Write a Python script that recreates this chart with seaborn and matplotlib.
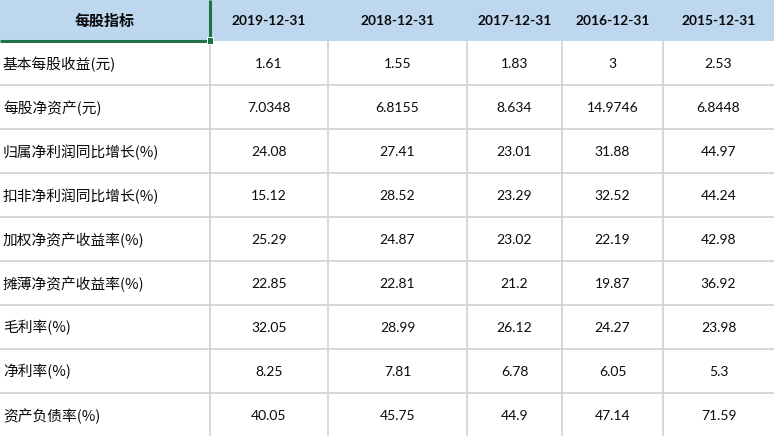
import matplotlib
matplotlib.use("Agg")
import matplotlib.pyplot as plt
import seaborn as sns

sns.set_theme(style="white")
plt.rcParams['font.family'] = ['Noto Sans CJK SC', 'DejaVu Sans']

header_label = "每股指标"
dates = ["2019-12-31", "2018-12-31", "2017-12-31", "2016-12-31", "2015-12-31"]
metrics = ["基本每股收益(元)", "每股净资产(元)", "归属净利润同比增长(%)",
           "扣非净利润同比增长(%)", "加权净资产收益率(%)", "摊薄净资产收益率(%)",
           "毛利率(%)", "净利率(%)", "资产负债率(%)"]
v2019 = ["1.61", "7.0348", "24.08", "15.12", "25.29", "22.85", "32.05", "8.25", "40.05"]
v2018 = ["1.55", "6.8155", "27.41", "28.52", "24.87", "22.81", "28.99", "7.81", "45.75"]
v2017 = ["1.83", "8.634", "23.01", "23.29", "23.02", "21.2", "26.12", "6.78", "44.9"]
v2016 = ["3", "14.9746", "31.88", "32.52", "22.19", "19.87", "24.27", "6.05", "47.14"]
v2015 = ["2.53", "6.8448", "44.97", "44.24", "42.98", "36.92", "23.98", "5.3", "71.59"]
columns = [v2019, v2018, v2017, v2016, v2015]

W, H = 774, 436
fig = plt.figure(figsize=(W / 100, H / 100), dpi=100)
ax = fig.add_axes([0, 0, 1, 1])
ax.set_xlim(0, W)
ax.set_ylim(H, 0)
ax.axis("off")

col_edges = [0, 210, 328, 467, 562, 663, 774]
header_h = 41
row_h = 44
grid = "#D4D4D4"
blue = "#BDD7EE"
green = "#217346"
ink = "#0a0a0a"

# header background
ax.add_patch(plt.Rectangle((0, 0), W, header_h, color=blue, lw=0, zorder=0))

# grid lines
n = len(metrics)
for i in range(1, n + 1):
    y = header_h + i * row_h
    ax.plot([0, W], [y, y], color=grid, lw=1.3, zorder=1, solid_capstyle="butt")
for x in col_edges[1:-1]:
    ax.plot([x, x], [header_h, H], color=grid, lw=1.3, zorder=1, solid_capstyle="butt")

# selection border
ax.plot([0, 210], [header_h, header_h], color=green, lw=2.2, zorder=3, solid_capstyle="butt")
ax.plot([210, 210], [0, header_h], color=green, lw=2.2, zorder=3, solid_capstyle="butt")
ax.add_patch(plt.Rectangle((206.5, header_h - 3.5), 7.5, 7.5, color="white", lw=0, zorder=3.5))
ax.add_patch(plt.Rectangle((207.5, header_h - 2.5), 5.5, 5.5, color=green, lw=0, zorder=4))

num_font = ['Lato', 'DejaVu Sans']
# header text
ax.text(105, 21, header_label, ha="center", va="center", fontsize=10.8,
        fontweight="bold", color=ink)
for j, d in enumerate(dates):
    cx = (col_edges[j + 1] + col_edges[j + 2]) / 2
    ax.text(cx, 21, d, ha="center", va="center", fontsize=9.9, fontweight="bold",
            family=num_font, color=ink)

# body
for i, m in enumerate(metrics):
    cy = header_h + i * row_h + row_h / 2 + 1
    ax.text(3, cy, m, ha="left", va="center", fontsize=10.6, color=ink)
    for j, col in enumerate(columns):
        cx = (col_edges[j + 1] + col_edges[j + 2]) / 2
        ax.text(cx, cy, col[i], ha="center", va="center", fontsize=10.0,
                family=num_font, color=ink)

fig.savefig("out.png", dpi=100)
